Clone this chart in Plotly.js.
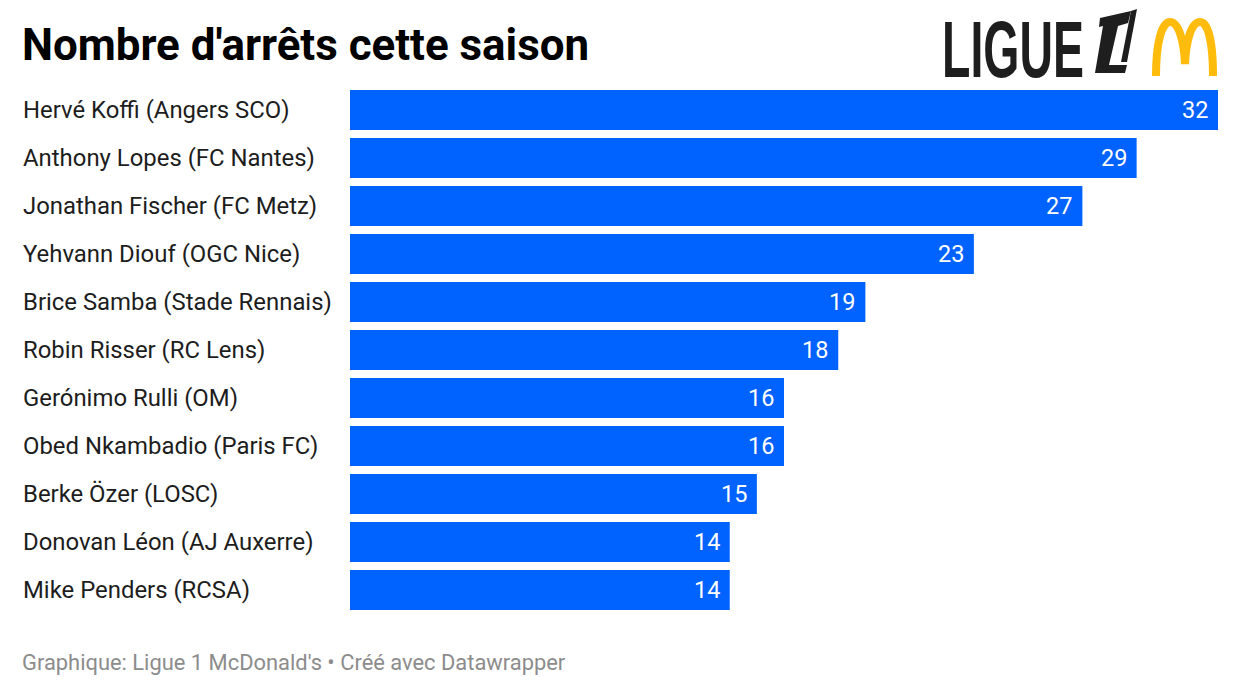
<!DOCTYPE html>
<html>
<head>
<meta charset="utf-8">
<script src="https://cdn.plot.ly/plotly-3.0.1.min.js"></script>
<style>
html,body{margin:0;padding:0;background:#fff;}
#chart{width:1240px;height:696px;}
</style>
</head>
<body>
<div id="chart"></div>
<script>
const players = [
  "Hervé Koffi (Angers SCO)",
  "Anthony Lopes (FC Nantes)",
  "Jonathan Fischer (FC Metz)",
  "Yehvann Diouf (OGC Nice)",
  "Brice Samba (Stade Rennais)",
  "Robin Risser (RC Lens)",
  "Gerónimo Rulli (OM)",
  "Obed Nkambadio (Paris FC)",
  "Berke Özer (LOSC)",
  "Donovan Léon (AJ Auxerre)",
  "Mike Penders (RCSA)"
];
const saves = [32, 29, 27, 23, 19, 18, 16, 16, 15, 14, 14];
const titleText = "Nombre d'arrêts cette saison";
const footerText = "Graphique: Ligue 1 McDonald's • Créé avec Datawrapper";

const W = 1240, H = 696;
const M = {l: 350, r: 22, t: 86, b: 82};
const PW = W - M.l - M.r, PH = H - M.t - M.b;
const px = x => (x - M.l) / PW;
const py = y => (H - M.b - y) / PH;
function pathPx(cmds) {
  return cmds.map(c => c[0] + ' ' + c.slice(1).reduce((a, v, i) => {
    a.push(i % 2 === 0 ? px(v).toFixed(5) : py(v).toFixed(5)); return a;
  }, []).join(' ')).join(' ');
}

const trace = {
  type: 'bar',
  orientation: 'h',
  y: players,
  x: saves,
  marker: {color: '#0062ff'},
  hoverinfo: 'none',
  width: 0.833
};

const annotations = [];
players.forEach((p, i) => {
  annotations.push({
    xref: 'paper', yref: 'y', x: px(21), y: p, xanchor: 'left', yanchor: 'middle',
    text: p, showarrow: false, font: {family: 'Roboto', size: 23.9, color: '#1d1d1d'}
  });
  annotations.push({
    xref: 'x', yref: 'y', x: saves[i], y: p, xanchor: 'right', yanchor: 'middle', xshift: -8,
    text: String(saves[i]), showarrow: false, font: {family: 'Roboto', size: 23.5, color: '#ffffff'}
  });
});
annotations.push({
  xref: 'paper', yref: 'paper', x: px(20), y: py(45), xanchor: 'left', yanchor: 'middle',
  text: '<b>' + titleText + '</b>', showarrow: false,
  font: {family: 'Roboto', size: 43.9, color: '#000000'}
});
annotations.push({
  xref: 'paper', yref: 'paper', x: px(20), y: py(662), xanchor: 'left', yanchor: 'middle',
  text: footerText, showarrow: false,
  font: {family: 'Roboto', size: 21.9, color: '#8c8c8c'}
});
annotations.push({
  xref: 'paper', yref: 'paper', x: px(940), y: py(49), xanchor: 'left', yanchor: 'middle',
  text: '<b>LIGUE</b>', showarrow: false,
  font: {family: 'Liberation Sans', size: 80, color: '#1e1e1e'}
});

const shapes = [
  { // stylised "1": top bar, slanted stem and foot
    type: 'path', xref: 'paper', yref: 'paper',
    path: pathPx([['M',1100,18],['L',1131,11],['L',1128,23],['L',1118,26],['L',1109,65],['L',1127,65],['L',1125,73],['L',1095,73],['L',1103,26],['L',1099,27],['Z']]),
    fillcolor: '#1e1e1e', line: {width: 0}
  },
  { // slanted thin right stroke
    type: 'path', xref: 'paper', yref: 'paper',
    path: pathPx([['M',1131,11],['L',1137,9],['L',1127,62],['L',1121,62],['Z']]),
    fillcolor: '#1e1e1e', line: {width: 0}
  },
  { // arches
    type: 'path', xref: 'paper', yref: 'paper',
    path: pathPx([['M',1156,76],['C',1156,42,1162,22,1170,22],['C',1179,22,1184,42,1185,64],['C',1186,42,1191,22,1200,22],['C',1208,22,1213,42,1213,76]]),
    fillcolor: 'rgba(0,0,0,0)', line: {color: '#ffbc0d', width: 8}
  }
];

const layout = {
  width: W, height: H,
  margin: M,
  paper_bgcolor: '#ffffff', plot_bgcolor: '#ffffff',
  showlegend: false,
  bargap: 0.167,
  xaxis: {range: [0, 32], visible: false, fixedrange: true},
  yaxis: {autorange: 'reversed', type: 'category', range: [10.5, -0.5], visible: false, fixedrange: true},
  annotations: annotations,
  shapes: shapes
};

Plotly.newPlot('chart', [trace], layout, {displayModeBar: false, staticPlot: true}).then(gd => {
  const texts = gd.querySelectorAll('.annotation-text');
  texts.forEach(t => {
    if (t.textContent === 'LIGUE') {
      const bb = t.getBBox();
      const x0 = bb.x;
      const sx = 142 / bb.width;
      t.setAttribute('transform', 'translate(' + x0 + ',0) scale(' + sx + ',1) translate(' + (-x0) + ',0)');
    }
  });
});
</script>
</body>
</html>
